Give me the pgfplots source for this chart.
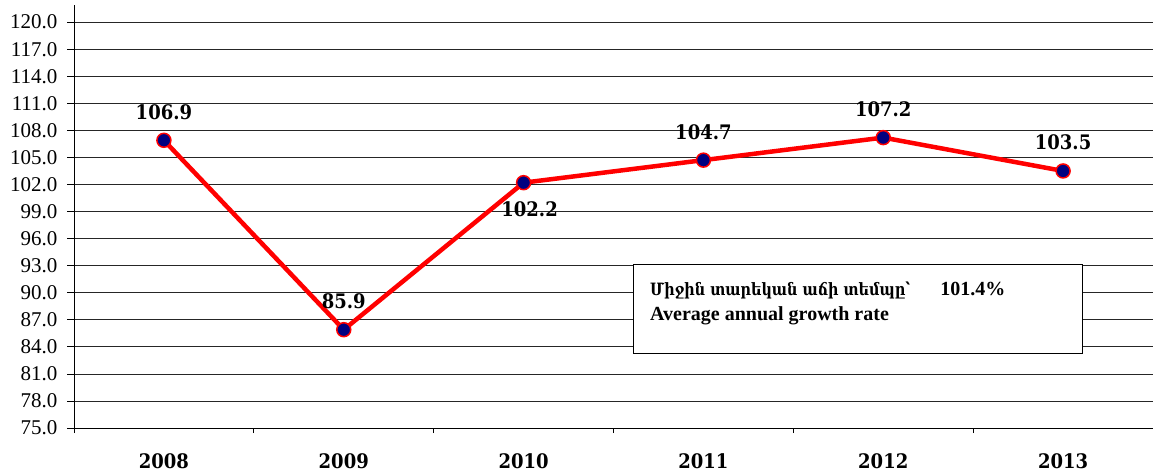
\documentclass[border=0pt]{standalone}
\usepackage{fontspec}
\setmainfont{DejaVu Serif}
\newfontfamily\lserif{Liberation Serif}
\newfontfamily\dvbold{DejaVu Serif}[FakeStretch=0.9]
\newfontfamily\armfont{DejaVu Serif}[FakeStretch=0.85]
\usepackage{pgfplots}
\pgfplotsset{compat=1.18}
\definecolor{navymark}{RGB}{0,0,128}
\begin{document}
\begin{tikzpicture}
\begin{axis}[
  scale only axis, width=1079pt, height=423pt,
  xmin=-0.5, xmax=5.5, ymin=75, ymax=121.9,
  axis x line*=bottom, axis y line*=left,
  axis line style={-, black, line width=0.8pt},
  xtick={0,...,5}, xticklabels={2008,2009,2010,2011,2012,2013},
  major x tick style={draw=none},
  minor xtick={-0.5,0.5,1.5,2.5,3.5,4.5,5.5},
  minor x tick style={black, line width=0.8pt},
  minor tick length=5pt,
  major tick length=7pt,
  tick align=outside,
  ytick={75,78,81,84,87,90,93,96,99,102,105,108,111,114,117,120},
  y tick style={black, line width=0.8pt},
  ymajorgrids, grid style={black!85, line width=0.7pt},
  /pgf/number format/assume math mode=true,
  yticklabel style={xshift=-6pt, /pgf/number format/.cd, fixed, fixed zerofill, precision=1},
  yticklabel={\fontsize{21}{23}\lserif\pgfmathprintnumber{\tick}},
  xticklabel style={font=\fontsize{20}{22}\dvbold\bfseries, anchor=base, yshift=-33pt},
  clip=false,
]
\addplot[red, line width=4.5pt, mark=*, mark size=7pt,
  mark options={fill=navymark, draw=red, line width=1.5pt}]
  coordinates {(0,106.9) (1,85.9) (2,102.2) (3,104.7) (4,107.2) (5,103.5)};
\addplot[draw=none, mark=none, nodes near coords,
  every node near coord/.append style={anchor=base, inner sep=0pt, yshift=21pt, font=\fontsize{20}{22}\dvbold\bfseries, black,
    /pgf/number format/.cd, fixed, fixed zerofill, precision=1}]
  coordinates {(0,106.9) (1,85.9) (3,104.7) (4,107.2) (5,103.5)};
\addplot[draw=none, mark=none, nodes near coords,
  every node near coord/.append style={anchor=base, inner sep=0pt, yshift=-34pt, xshift=6pt, font=\fontsize{20}{22}\dvbold\bfseries, black,
    /pgf/number format/.cd, fixed, fixed zerofill, precision=1}]
  coordinates {(2,102.2)};
\draw[black, line width=1pt, fill=white] (axis cs:2.61,93.18) rectangle (axis cs:5.11,83.31);
\node[anchor=base west, inner sep=0pt, font=\fontsize{17}{19}\armfont\bfseries] at (axis cs:2.703,89.74) {Միջին տարեկան աճի տեմպը՝};
\node[anchor=base west, inner sep=0pt, font=\fontsize{20}{22}\lserif\bfseries] at (axis cs:4.316,89.74) {101.4\%};
\node[anchor=base west, inner sep=0pt, font=\fontsize{20}{22}\lserif\bfseries] at (axis cs:2.703,86.97) {Average annual growth rate};
\coordinate (bl) at (axis cs:-0.5,75);
\coordinate (tr) at (axis cs:5.5,121.9);
\end{axis}
\pgfresetboundingbox
\path ([shift={(-74pt,-44pt)}]bl) rectangle ([shift={(0pt,5pt)}]tr);
\end{tikzpicture}
\end{document}
